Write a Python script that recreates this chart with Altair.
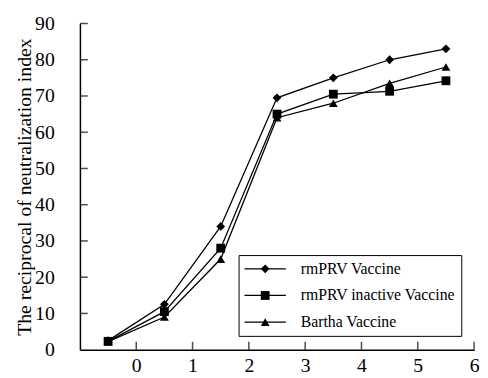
import altair as alt
import pandas as pd

days = [-0.5, 0.5, 1.5, 2.5, 3.5, 4.5, 5.5]
series_names = ["rmPRV Vaccine", "rmPRV inactive Vaccine", "Bartha Vaccine"]
rmprv = [2.5, 12.5, 34, 69.5, 75, 80, 83]
rmprv_inactive = [2.3, 10.5, 28, 65, 70.5, 71.3, 74.2]
bartha = [2.2, 9, 25, 64, 68, 73.5, 78]
shapes = ["diamond", "square", "triangle-up"]
x_ticks = [0, 1, 2, 3, 4, 5, 6]
y_ticks = [0, 10, 20, 30, 40, 50, 60, 70, 80, 90]

rows = []
for name, vals in zip(series_names, [rmprv, rmprv_inactive, bartha]):
    for d, v in zip(days, vals):
        rows.append({"x": d, "y": v, "Series": name, "Vaccine": name})
df = pd.DataFrame(rows)

FONT = "Liberation Serif"

xscale = alt.Scale(domain=[-1, 6], nice=False, zero=False)
yscale = alt.Scale(domain=[0, 90], nice=False)

xaxis = alt.Axis(values=x_ticks, title=None, format="d", tickSize=0, labelPadding=6,
                 labelFontSize=20, labelFont=FONT, labelColor="black",
                 domainColor="black", domainWidth=1.5, grid=False,
                 labelFlush=False, labelOverlap=False)
yaxis = alt.Axis(values=y_ticks, title="The reciprocal of neutralization index",
                 format="d", tickSize=0, labelPadding=26, labelFontSize=20,
                 labelFont=FONT, labelColor="black", domainColor="black",
                 domainWidth=1.5, grid=False, labelFlush=False, labelOverlap=False,
                 labelAlign="right", labelBaseline="middle",
                 titleFont=FONT, titleFontSize=20, titleFontWeight="normal",
                 titleColor="black", titlePadding=0)

common_legend = dict(title=None, orient="none", legendX=161, legendY=235,
                     padding=6, symbolOffset=13, labelOffset=28, rowPadding=11,
                     labelFontSize=16, labelFont=FONT, labelColor="black",
                     labelLimit=400)

X = alt.X("x:Q", scale=xscale, axis=xaxis)
Y = alt.Y("y:Q", scale=yscale, axis=yaxis)

lines = alt.Chart(df).mark_line(strokeWidth=1.3).encode(
    x=X, y=Y,
    stroke=alt.Stroke("Series:N",
                      scale=alt.Scale(range=["black"] * 3),
                      sort=series_names,
                      legend=alt.Legend(symbolType="M-5.25,0H5.25", symbolSize=64,
                                        symbolStrokeWidth=1.3, strokeColor="black",
                                        **common_legend)),
)

points = alt.Chart(df).mark_point(filled=True, size=80, color="black", opacity=1).encode(
    x=X, y=Y,
    shape=alt.Shape("Vaccine:N",
                    scale=alt.Scale(domain=series_names, range=shapes),
                    legend=alt.Legend(symbolSize=80, labelOpacity=0,
                                      symbolFillColor="black", **common_legend)),
)

xt = alt.Chart(pd.DataFrame({"x": x_ticks})).mark_tick(
    orient="vertical", size=8, yOffset=-4, thickness=1.5, color="black").encode(
    x=X, y=alt.value({"expr": "height"}))

yt = alt.Chart(pd.DataFrame({"y": y_ticks[1:]})).mark_tick(
    orient="horizontal", size=8, xOffset=4, thickness=1.5, color="black").encode(
    y=Y, x=alt.value(0))

chart = alt.layer(lines, points, xt, yt).properties(
    width=400, height=331,
    autosize=alt.AutoSizeParams(type="none"),
    padding={"left": 73, "top": 13, "right": 6, "bottom": 25},
).configure_view(stroke=None)

chart.save("out.html", embed_options={"renderer": "svg", "actions": False})
